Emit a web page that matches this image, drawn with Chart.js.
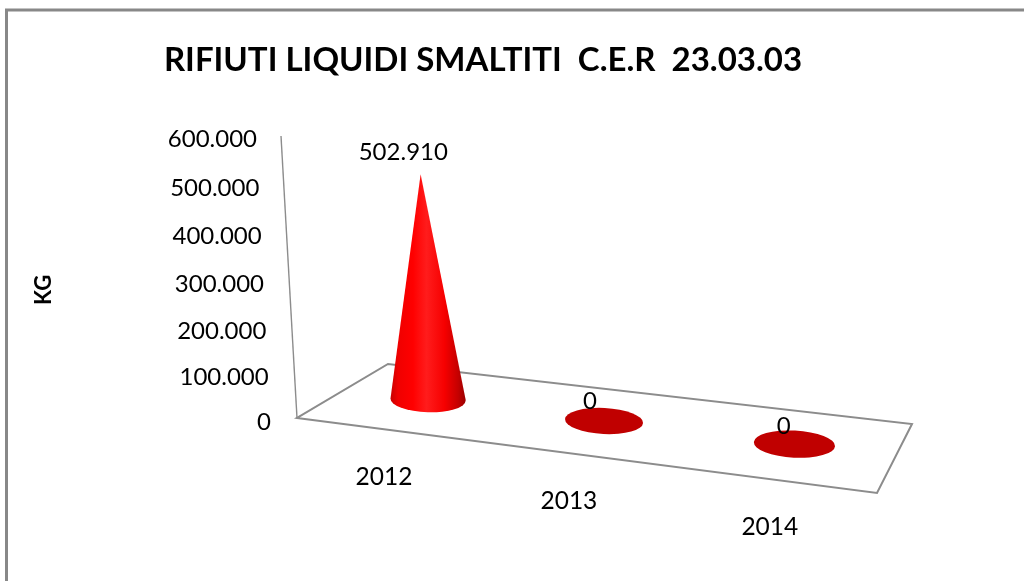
<!DOCTYPE html>
<html>
<head>
<meta charset="utf-8">
<style>
  html, body { margin: 0; padding: 0; background: #fff; }
  #box { width: 1024px; height: 581px; }
</style>
<script src="https://cdn.jsdelivr.net/npm/chart.js@4"></script>
</head>
<body>
<div id="box"><canvas id="grafico" width="1024" height="581"></canvas></div>
<script>
var anni = ["2012", "2013", "2014"];
var rifiuti = [502910, 0, 0];
var tacche = [0, 100000, 200000, 300000, 400000, 500000, 600000];
var titolo = "RIFIUTI LIQUIDI SMALTITI  C.E.R  23.03.03";
var nomeAsse = "KG";

var FONT = "Lato";

// punti del pavimento in prospettiva (davanti sx, davanti dx, dietro dx, dietro sx)
var pav = [[297, 418], [877, 493], [912, 424], [388, 364]];

// omografia dal quadrato unitario al pavimento
var dx1 = pav[1][0] - pav[2][0], dx2 = pav[3][0] - pav[2][0];
var dy1 = pav[1][1] - pav[2][1], dy2 = pav[3][1] - pav[2][1];
var sx = pav[0][0] - pav[1][0] + pav[2][0] - pav[3][0];
var sy = pav[0][1] - pav[1][1] + pav[2][1] - pav[3][1];
var den = dx1 * dy2 - dx2 * dy1;
var g = (sx * dy2 - dx2 * sy) / den;
var h = (dx1 * sy - sx * dy1) / den;
function proietta(u, v) {
    var w = 1 + g * u + h * v;
    var x = (pav[1][0] - pav[0][0] + g * pav[1][0]) * u + (pav[3][0] - pav[0][0] + h * pav[3][0]) * v + pav[0][0];
    var y = (pav[1][1] - pav[0][1] + g * pav[1][1]) * u + (pav[3][1] - pav[0][1] + h * pav[3][1]) * v + pav[0][1];
    return { x: x / w, y: y / w, w: w };
}

function puntini(n) {
    return String(n).replace(/\B(?=(\d{3})+$)/g, ".");
}

// la scala verticale si stringe un poco verso il basso per la prospettiva
function altezzaVista(t, tot) {
    return tot * (1 - 0.048) * t / (1 - 0.048 * t);
}

var pavimento = {
    id: "pavimento",
    beforeDatasetsDraw: function (chart) {
        var c = chart.ctx;
        var scalaY = chart.scales.y;
        var tot = scalaY.bottom - scalaY.top;
        c.save();
        // cornice
        c.strokeStyle = "#888888";
        c.lineWidth = 3;
        c.beginPath();
        c.moveTo(6.5, 581);
        c.lineTo(6.5, 10);
        c.lineTo(1024, 10);
        c.stroke();
        // asse verticale
        c.lineWidth = 1.4;
        c.strokeStyle = "#8c8c8c";
        c.beginPath();
        c.moveTo(297, 418);
        c.lineTo(281, 136);
        c.stroke();
        // pavimento
        c.lineWidth = 2;
        c.beginPath();
        c.moveTo(pav[0][0], pav[0][1]);
        for (var i = 1; i < 4; i++) c.lineTo(pav[i][0], pav[i][1]);
        c.closePath();
        c.stroke();
        // etichette dell'asse, seguono l'inclinazione
        c.fillStyle = "#000";
        c.font = "24px " + FONT;
        c.textAlign = "right";
        c.textBaseline = "middle";
        tacche.forEach(function (t) {
            var f = (scalaY.bottom - scalaY.getPixelForValue(t)) / tot;
            c.fillText(puntini(t), 271 - 14 * f, scalaY.bottom - altezzaVista(f, tot) + 1.5);
        });
        // nome asse
        c.translate(44, 290);
        c.rotate(-Math.PI / 2);
        c.font = "bold 22px " + FONT;
        c.textAlign = "center";
        c.fillText(nomeAsse, 0, 0);
        c.restore();
    },
    afterDatasetsDraw: function (chart) {
        var c = chart.ctx;
        var scalaX = chart.scales.x;
        var barre = chart.getDatasetMeta(0).data;
        c.save();
        c.textAlign = "center";
        c.textBaseline = "middle";
        barre.forEach(function (barra, i) {
            var u = (barra.x - scalaX.left) / (scalaX.right - scalaX.left);
            var p = proietta(u, 0.5);
            var rx = 39 / p.w, ry = 13 / p.w;
            var alt = (barra.base - barra.y) * 0.985 / p.w;
            var cimaX = p.x - alt * 0.033, cimaY = p.y - alt;
            if (alt > 1) {
                var gr = c.createLinearGradient(p.x - rx, 0, p.x + rx, 0);
                gr.addColorStop(0, "#c80000");
                gr.addColorStop(0.1, "#f00000");
                gr.addColorStop(0.3, "#ff0000");
                gr.addColorStop(0.48, "#ff1c1c");
                gr.addColorStop(0.72, "#f60000");
                gr.addColorStop(0.9, "#c40000");
                gr.addColorStop(1, "#9a0000");
                c.fillStyle = gr;
                c.beginPath();
                c.moveTo(cimaX, cimaY);
                c.lineTo(p.x + rx, p.y);
                c.ellipse(p.x, p.y, rx, ry, 0.03, 0, Math.PI);
                c.closePath();
                c.fill();
            } else {
                c.fillStyle = "#c00000";
                c.beginPath();
                c.ellipse(p.x, p.y, rx, ry, 0.05, 0, Math.PI * 2);
                c.fill();
            }
            // etichetta del valore
            c.fillStyle = "#000";
            c.font = "24px " + FONT;
            c.fillText(puntini(rifiuti[i]), cimaX - 19 + 10 * u, cimaY - 23 + 6 * u);
            // anno sotto il bordo del pavimento
            var f = proietta(u, 0);
            c.font = "24.5px " + FONT;
            c.fillText(anni[i], f.x, f.y + 48);
        });
        c.restore();
    }
};

new Chart(document.getElementById("grafico"), {
    type: "bar",
    data: {
        labels: anni,
        datasets: [{ data: rifiuti, backgroundColor: "rgba(0,0,0,0)", borderWidth: 0 }]
    },
    options: {
        responsive: false,
        animation: false,
        layout: { padding: { left: 89, right: 147, top: 0, bottom: 160 } },
        plugins: {
            legend: { display: false },
            tooltip: { enabled: false },
            title: {
                display: true,
                text: titolo,
                color: "#000",
                font: { family: FONT, size: 33, weight: "bold" },
                padding: { top: 41, bottom: 57 }
            }
        },
        scales: {
            x: { display: false },
            y: {
                min: 0,
                max: 600000,
                afterFit: function (s) { s.width = 208; },
                grid: { display: false, drawTicks: false },
                border: { display: false },
                ticks: { display: false, stepSize: 100000 }
            }
        }
    },
    plugins: [pavimento]
});
</script>
</body>
</html>
